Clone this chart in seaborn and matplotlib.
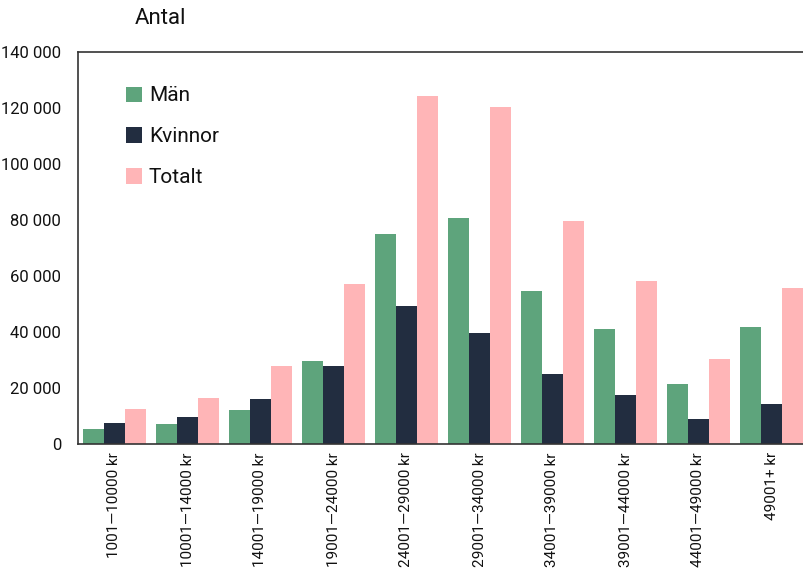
import pandas as pd
import numpy as np
import matplotlib
matplotlib.use("Agg")
import matplotlib.pyplot as plt
import seaborn as sns
from matplotlib.ticker import FuncFormatter

# Data
categories = ["1001—10000 kr", "10001—14000 kr", "14001—19000 kr", "19001—24000 kr",
              "24001—29000 kr", "29001—34000 kr", "34001—39000 kr", "39001—44000 kr",
              "44001—49000 kr", "49001+ kr"]
man = [5400, 7100, 12100, 29600, 75000, 80700, 54600, 41000, 21400, 41800]
kvinnor = [7500, 9600, 16100, 27900, 49300, 39600, 25000, 17500, 8900, 14300]
totalt = [12500, 16400, 27900, 57100, 124300, 120400, 79600, 58200, 30400, 55700]
series_names = ["Män", "Kvinnor", "Totalt"]
colors = ["#5ea47c", "#222d40", "#ffb5b7"]

df = pd.DataFrame({"Män": man, "Kvinnor": kvinnor, "Totalt": totalt}, index=categories)
long_df = df.reset_index().melt(id_vars="index", var_name="serie", value_name="antal")
long_df = long_df.rename(columns={"index": "grupp"})

sns.set_style("white")
plt.rcParams['font.family'] = ['Roboto', 'DejaVu Sans']

fig = plt.figure(figsize=(8.04, 5.72), dpi=100)
ax = fig.add_axes([78 / 804, 1 - 444 / 572, 730 / 804, 392 / 572])

sns.barplot(data=long_df, x="grupp", y="antal", hue="serie", hue_order=series_names,
            palette=colors, width=0.86, saturation=1, ax=ax, errorbar=None,
            linewidth=0)

ax.set_xlim(-0.5, len(categories) - 0.5)
ax.set_ylim(0, 140000)
ax.set_yticks(np.arange(0, 140001, 20000))
ax.yaxis.set_major_formatter(FuncFormatter(lambda v, p: f"{int(v):,}".replace(",", " ")))

ax.set_xlabel("")
ax.set_ylabel("")
ax.tick_params(axis="x", which="major", length=0, labelsize=11, rotation=90, pad=6,
               labelcolor="#111111")
ax.set_xticks(np.arange(-0.5, len(categories)), minor=True)
ax.tick_params(axis="x", which="minor", direction="inout", length=9, width=1, color="#333333")
ax.tick_params(axis="y", which="major", direction="in", length=5, width=1,
               color="#333333", labelsize=12, pad=12, labelcolor="#111111")

for s in ["left", "bottom", "top", "right"]:
    ax.spines[s].set_color("#333333")
    ax.spines[s].set_linewidth(1.2)

ax.legend(loc="upper left", bbox_to_anchor=(0.04, 0.96), frameon=False,
          fontsize=15, labelspacing=1.05, handlelength=0.75, handleheight=0.75,
          handletextpad=0.35, labelcolor="#111111")

fig.text(135 / 804, 1 - 18 / 572, "Antal", fontsize=16, ha="left", va="center",
         color="#111111")

fig.savefig("out.png", dpi=100)
